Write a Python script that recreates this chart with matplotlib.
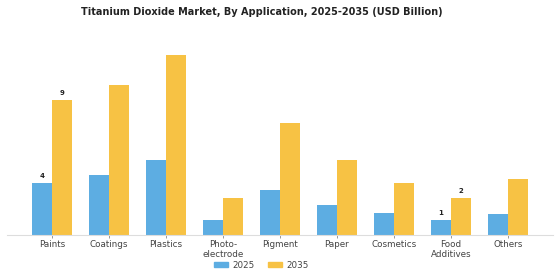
import numpy as np
import matplotlib.pyplot as plt
from matplotlib.patches import Patch

# data
categories = ["Paints", "Coatings", "Plastics", "Photo-\nelectrode", "Pigment",
              "Paper", "Cosmetics", "Food\nAdditives", "Others"]
years = ["2025", "2035"]
values_2025 = [3.5, 4.0, 5.0, 1.0, 3.0, 2.0, 1.5, 1.0, 1.4]
values_2035 = [9.0, 10.0, 12.0, 2.5, 7.5, 5.0, 3.5, 2.5, 3.75]
labelled = [0, 7]  # categories that carry value labels

c2025 = "#5DADE2"
c2035 = "#F7C244"

fig = plt.figure(figsize=(5.6, 2.8), dpi=100)
ax = fig.add_axes([0.0125, 0.1607, 0.975, 0.732])

x = np.arange(len(categories))
w = 0.35
b1 = ax.bar(x - w/2, values_2025, w, color=c2025)
b2 = ax.bar(x + w/2, values_2035, w, color=c2035)

for i in labelled:
    ax.text(x[i] - w/2, values_2025[i] + 0.25, str(round(values_2025[i])),
            ha="center", va="bottom", fontsize=5, fontweight="bold", color="#222222")
    ax.text(x[i] + w/2, values_2035[i] + 0.25, str(round(values_2035[i])),
            ha="center", va="bottom", fontsize=5, fontweight="bold", color="#222222")

ax.set_xlim(-0.79, len(categories) - 1 + 0.79)
ax.set_ylim(0, 13.67)
ax.set_xticks(x)
ax.set_xticklabels(categories, fontsize=6.3, color="#444444", linespacing=1.1)
ax.tick_params(axis="x", length=2, width=0.6, color="#888888", pad=1.5)
ax.set_yticks([])
for s in ["top", "right", "left"]:
    ax.spines[s].set_visible(False)
ax.spines["bottom"].set_color("#dddddd")
ax.spines["bottom"].set_linewidth(0.8)

fig.suptitle("Titanium Dioxide Market, By Application, 2025-2035 (USD Billion)",
             fontsize=7.0, fontweight="bold", color="#222222", y=0.975, x=0.467)

handles = [Patch(color=c2025), Patch(color=c2035)]
fig.legend(handles, years, loc="center", bbox_to_anchor=(0.467, 0.052), ncol=2,
           frameon=False, fontsize=6.3, handlelength=1.6, handleheight=0.45,
           columnspacing=1.6, handletextpad=0.5, labelcolor="#444444")

plt.savefig("out.png", dpi=100)
